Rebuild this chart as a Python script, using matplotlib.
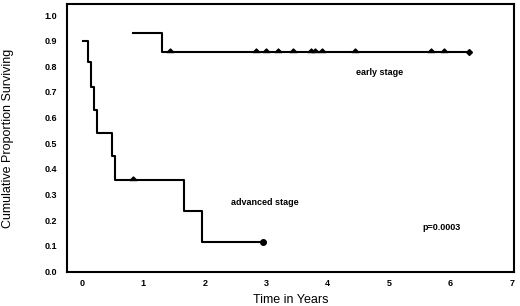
import matplotlib
matplotlib.use("Agg")
import matplotlib.pyplot as plt
from matplotlib.path import Path

# ==== 資料 ====
early_t = [0.83, 1.30, 6.30]
early_s = [0.93, 0.855, 0.855]
early_cens = [1.43, 2.84, 2.99, 3.19, 3.43, 3.72, 3.80, 3.90, 4.44, 5.69, 5.90]
early_end = 6.30

adv_t = [0.02, 0.10, 0.15, 0.20, 0.24, 0.49, 0.54, 1.66, 1.95, 2.95]
adv_s = [0.90, 0.815, 0.72, 0.63, 0.54, 0.45, 0.355, 0.235, 0.117, 0.117]
adv_cens_t = [0.83]
adv_cens_s = [0.355]

xticks = [0, 1, 2, 3, 4, 5, 6, 7]
yticks = [0.0, 0.1, 0.2, 0.3, 0.4, 0.5, 0.6, 0.7, 0.8, 0.9, 1.0]

plt.rcParams["font.family"] = ["Liberation Sans", "DejaVu Sans"]

# 線上的小三角 (底邊在線上)
bump = Path([(-1, 0), (1, 0), (0, 1), (-1, 0)],
            [Path.MOVETO, Path.LINETO, Path.LINETO, Path.CLOSEPOLY])

fig = plt.figure(figsize=(5.2, 3.06), dpi=100)
ax = fig.add_axes([0.129, 0.111, 0.859, 0.876])

ax.plot(early_t, early_s, drawstyle="steps-post", color="black", lw=1.5)
ax.plot(early_cens, [early_s[-1]] * len(early_cens), linestyle="none",
        marker=bump, markersize=5, color="black")
ax.plot([early_end], [early_s[-1]], linestyle="none", marker="D",
        markersize=3, color="black")

ax.plot(adv_t, adv_s, drawstyle="steps-post", color="black", lw=1.5)
ax.plot(adv_cens_t, adv_cens_s, linestyle="none", marker=bump,
        markersize=5, color="black")
ax.plot([adv_t[-1]], [adv_s[-1]], linestyle="none", marker="o",
        markersize=4, color="black")

ax.text(4.85, 0.774, "early stage", fontsize=6.5, fontweight="bold",
        ha="center", va="center")
ax.text(2.98, 0.271, "advanced stage", fontsize=6.5, fontweight="bold",
        ha="center", va="center")
ax.text(5.86, 0.17, "p=0.0003", fontsize=6.5, fontweight="bold",
        ha="center", va="center")

ax.set_xlim(-0.244, 7.03)
ax.set_ylim(-0.002, 1.043)
ax.set_xticks(xticks)
ax.set_yticks(yticks)
ax.set_xticklabels([str(t) for t in xticks], fontsize=6.5, fontweight="bold")
ax.set_yticklabels([f"{t:.1f}" for t in yticks], fontsize=6.5, fontweight="bold")
ax.tick_params(axis="x", length=0, pad=5)
ax.tick_params(axis="y", length=0, pad=7)
for s in ax.spines.values():
    s.set_linewidth(1.5)

ax.set_xlabel("Time in Years", fontsize=9, labelpad=4)
ax.set_ylabel("Cumulative Proportion Surviving", fontsize=9, labelpad=22)

fig.savefig("out.png", dpi=100)
